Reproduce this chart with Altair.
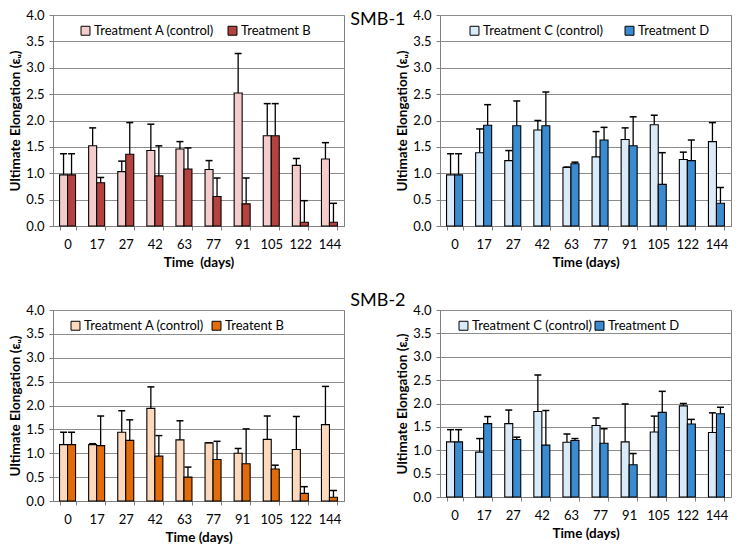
import altair as alt
import pandas as pd

days = ["0", "17", "27", "42", "63", "77", "91", "105", "122", "144"]

# SMB-1, Treatments A / B
smb1_a = [0.97, 1.52, 1.03, 1.43, 1.46, 1.07, 2.52, 1.71, 1.15, 1.27]
smb1_a_top = [1.37, 1.86, 1.23, 1.93, 1.60, 1.24, 3.27, 2.32, 1.28, 1.58]
smb1_b = [0.97, 0.82, 1.36, 0.95, 1.08, 0.56, 0.42, 1.71, 0.07, 0.07]
smb1_b_top = [1.37, 0.92, 1.96, 1.52, 1.48, 0.91, 0.91, 2.32, 0.48, 0.43]

# SMB-1, Treatments C / D
smb1_c = [0.97, 1.39, 1.24, 1.82, 1.11, 1.31, 1.64, 1.92, 1.26, 1.60]
smb1_c_top = [1.37, 1.84, 1.43, 2.00, 1.12, 1.79, 1.86, 2.10, 1.40, 1.96]
smb1_d = [0.97, 1.91, 1.90, 1.90, 1.18, 1.63, 1.52, 0.79, 1.24, 0.43]
smb1_d_top = [1.37, 2.30, 2.37, 2.54, 1.21, 1.87, 2.07, 1.39, 1.63, 0.73]

# SMB-2, Treatments A / B
smb2_a = [1.18, 1.18, 1.44, 1.94, 1.28, 1.22, 1.00, 1.29, 1.08, 1.60]
smb2_a_top = [1.44, 1.20, 1.89, 2.39, 1.68, 1.22, 1.10, 1.78, 1.77, 2.40]
smb2_b = [1.18, 1.16, 1.27, 0.94, 0.50, 0.87, 0.78, 0.67, 0.16, 0.08]
smb2_b_top = [1.44, 1.78, 1.70, 1.37, 0.71, 1.25, 1.51, 0.75, 0.30, 0.22]

# SMB-2, Treatments C / D
smb2_c = [1.18, 0.96, 1.57, 1.83, 1.17, 1.53, 1.18, 1.39, 1.95, 1.38]
smb2_c_top = [1.44, 1.25, 1.86, 2.61, 1.35, 1.69, 1.99, 1.73, 2.00, 1.80]
smb2_d = [1.18, 1.57, 1.23, 1.11, 1.21, 1.15, 0.69, 1.81, 1.56, 1.78]
smb2_d_top = [1.44, 1.72, 1.28, 1.85, 1.25, 1.46, 0.93, 2.26, 1.66, 1.92]

y_ticks = [0.0, 0.5, 1.0, 1.5, 2.0, 2.5, 3.0, 3.5, 4.0]
FONT = "Lato"
GRID = "#8c8c8c"


def make_df(ctrl, ctrl_top, trt, trt_top, ctrl_name, trt_name):
    rows = []
    for i, d in enumerate(days):
        rows.append(dict(day=d, pos=1, series=ctrl_name, value=ctrl[i], top=ctrl_top[i]))
        rows.append(dict(day=d, pos=2, series=trt_name, value=trt[i], top=trt_top[i]))
    return pd.DataFrame(rows)


def panel(df, names, colors, h, xtitle, lx, ly, colpad):
    x = alt.X(
        "day:N", sort=days,
        scale=alt.Scale(paddingInner=0.45, paddingOuter=0.225),
        axis=alt.Axis(title=xtitle, labelAngle=0, tickBand="extent", tickSize=4,
                      labelPadding=8, titlePadding=4, labelFontSize=13,
                      titleFontSize=13.5, titleFontWeight="bold",
                      domainColor="#808080", tickColor="#808080", labelColor="black"),
    )
    xo = alt.XOffset("pos:O", scale=alt.Scale(paddingInner=0, paddingOuter=0))
    yscale = alt.Scale(domain=[0, 4], nice=False)
    yaxis = alt.Axis(title="Ultimate Elongation (εᵤ)", values=y_ticks, format=".1f",
                     grid=True, gridColor=GRID, gridOpacity=1, tickSize=4,
                     labelPadding=5, titlePadding=3, labelFontSize=13,
                     titleFontSize=13.5, titleFontWeight="bold", labelOverlap=False,
                     domainColor="#808080", tickColor="#808080", labelColor="black")
    base = alt.Chart(df).encode(x=x, xOffset=xo)
    rule = base.mark_rule(color="black", strokeWidth=1.3).encode(
        y=alt.Y("value:Q", scale=yscale, axis=yaxis), y2="top:Q")
    cap = base.mark_tick(color="black", size=7, thickness=1.5, orient="horizontal",
                         opacity=1).encode(y=alt.Y("top:Q", scale=yscale, axis=yaxis))
    bars = base.mark_bar(stroke="black", strokeWidth=1.1, opacity=1).encode(
        y=alt.Y("value:Q", scale=yscale, axis=yaxis),
        color=alt.Color("series:N", scale=alt.Scale(domain=names, range=colors),
                        legend=alt.Legend(orient="none", legendX=lx, legendY=ly,
                                          direction="horizontal", title=None,
                                          symbolType="square", symbolStrokeColor="black",
                                          symbolStrokeWidth=1, symbolSize=80,
                                          symbolOpacity=1, labelFontSize=13,
                                          labelOffset=2, columnPadding=colpad,
                                          labelColor="black")),
    )
    return alt.layer(rule, bars, cap).properties(width=291, height=h)


p1 = panel(make_df(smb1_a, smb1_a_top, smb1_b, smb1_b_top,
                   "Treatment A (control)", "Treatment B"),
           ["Treatment A (control)", "Treatment B"], ["#f5cccc", "#b4433f"],
           211, "Time\u00a0 (days)", 26, 9, 11)
p2 = panel(make_df(smb1_c, smb1_c_top, smb1_d, smb1_d_top,
                   "Treatment C (control)", "Treatment D"),
           ["Treatment C (control)", "Treatment D"], ["#d9eaf8", "#3a8bd0"],
           211, "Time (days)", 28, 9, 19)
p3 = panel(make_df(smb2_a, smb2_a_top, smb2_b, smb2_b_top,
                   "Treatment A (control)", "Treatent B"),
           ["Treatment A (control)", "Treatent B"], ["#fcd9bc", "#e36c0a"],
           191, "Time (days)", 16, 9, 5)
p4 = panel(make_df(smb2_c, smb2_c_top, smb2_d, smb2_d_top,
                   "Treatment C (control)", "Treatment D"),
           ["Treatment C (control)", "Treatment D"], ["#d9eaf8", "#3a8bd0"],
           187, "Time (days)", 17, 9, 0)

row1 = alt.hconcat(p1, p2, spacing=50, title=alt.TitleParams(
    "SMB-1", fontSize=18, font=FONT, fontWeight="normal", anchor="middle",
    offset=-20, dx=8, color="black")).resolve_scale(color="independent")
row2 = alt.hconcat(p3, p4, spacing=50, title=alt.TitleParams(
    "SMB-2", fontSize=18, font=FONT, fontWeight="normal", anchor="middle",
    offset=-6, dx=8, color="black")).resolve_scale(color="independent")

chart = alt.vconcat(row1, row2, spacing=22).resolve_scale(
    color="independent").properties(padding=0).configure(font=FONT).configure_view(
    stroke="#808080", strokeWidth=1).configure_concat(spacing=50)

chart.save("out.html", embed_options={"renderer": "svg", "actions": False})
